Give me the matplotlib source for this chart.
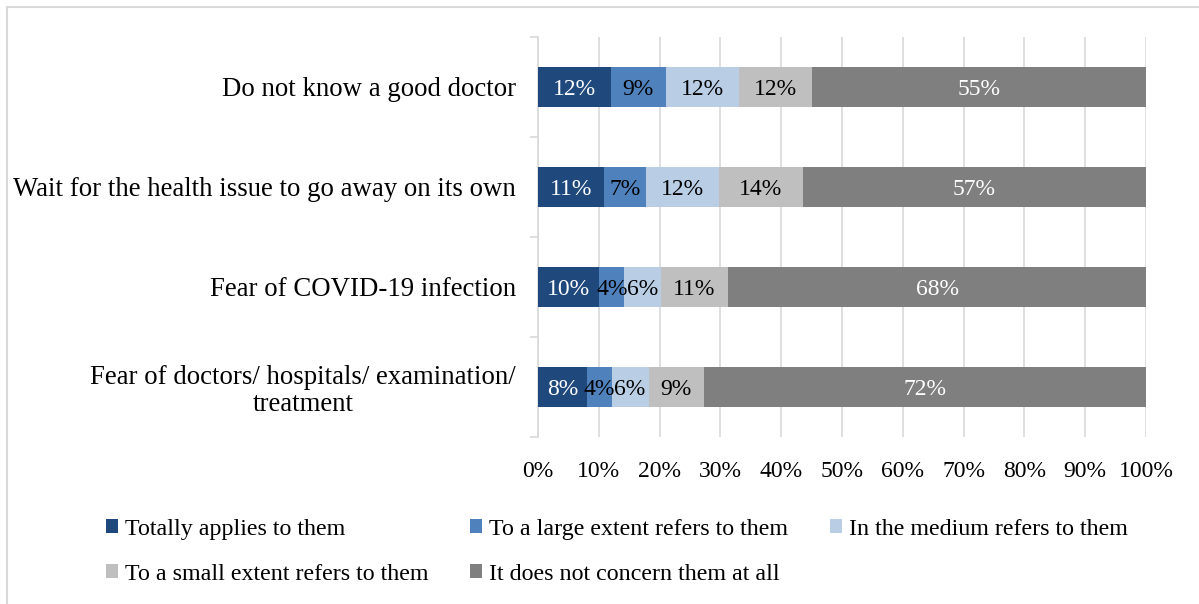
import numpy as np
import matplotlib.pyplot as plt
import matplotlib
from matplotlib.patches import Rectangle

matplotlib.rcParams.update({
    "font.family": ["Liberation Serif", "DejaVu Serif"],
    "font.size": 17,
    "savefig.dpi": 100,
})

reasons = [
    "Do not know a good doctor",
    "Wait for the health issue to go away on its own",
    "Fear of COVID-19 infection",
    "Fear of doctors/ hospitals/ examination/\ntreatment",
]
series_names = [
    "Totally applies to them",
    "To a large extent refers to them",
    "In the medium refers to them",
    "To a small extent refers to them",
    "It does not concern them at all",
]
# percent per reason, one list per answer category
totally = [12, 11, 10, 8]
large = [9, 7, 4, 4]
medium = [12, 12, 6, 6]
small = [12, 14, 11, 9]
not_at_all = [55, 57, 68, 72]

colors = ["#1F497D", "#4F81BD", "#B9CDE5", "#BFBFBF", "#7F7F7F"]
text_colors = ["white", "black", "black", "black", "white"]

vals = np.array([totally, large, medium, small, not_at_all], dtype=float)
shares = vals / vals.sum(axis=0) * 100  # 100% stacked

fig = plt.figure(figsize=(11.99, 6.04))
ax = fig.add_axes([538 / 1199, 1 - 437 / 604, 608 / 1199, 400 / 604])

y = np.arange(len(reasons))
left = np.zeros(len(reasons))
handles = []
for i, name in enumerate(series_names):
    bars = ax.barh(y, shares[i], left=left, height=0.4, color=colors[i],
                   label=name, zorder=3)
    handles.append(bars)
    for j, b in enumerate(bars):
        ax.text(left[j] + shares[i][j] / 2, y[j], f"{int(vals[i][j])}%",
                ha="center", va="center_baseline", color=text_colors[i],
                zorder=4)
    left += shares[i]

ax.set_xlim(0, 100)
ax.set_ylim(3.5, -0.5)
ax.set_xticks(np.arange(0, 101, 10))
ax.set_xticklabels([f"{v}%" for v in range(0, 101, 10)])
ax.set_yticks(y)
ax.set_yticklabels(reasons, multialignment="center", fontsize=19.3,
                   linespacing=1.1)
ax.set_yticks(np.arange(-0.5, 4, 1), minor=True)
ax.tick_params(axis="y", which="major", length=0, pad=16)
ax.tick_params(axis="y", which="minor", length=6, color="#D9D9D9", width=1.2)
ax.tick_params(axis="x", length=0, pad=17)

ax.grid(axis="x", color="#D9D9D9", linewidth=1.2, zorder=0)
for s in ["top", "right", "bottom"]:
    ax.spines[s].set_visible(False)
ax.spines["left"].set_color("#D9D9D9")
ax.spines["left"].set_linewidth(1.2)

# legend filled row by row
order = [0, 3, 1, 4, 2]
fig.legend([handles[k] for k in order], [series_names[k] for k in order],
           loc="upper left", bbox_to_anchor=(84 / 1199, 1 - 497 / 604),
           ncol=3, frameon=False, handlelength=0.5, handleheight=0.5,
           handletextpad=0.3, columnspacing=1.73, labelspacing=1.0,
           fontsize=17.3)

# outer chart border
fig.patches.append(Rectangle((7 / 1199, -0.1), 1.2, 1.1 - 7 / 604,
                             transform=fig.transFigure, fill=False,
                             edgecolor="#D9D9D9", linewidth=1.5))

fig.savefig("out.png")
